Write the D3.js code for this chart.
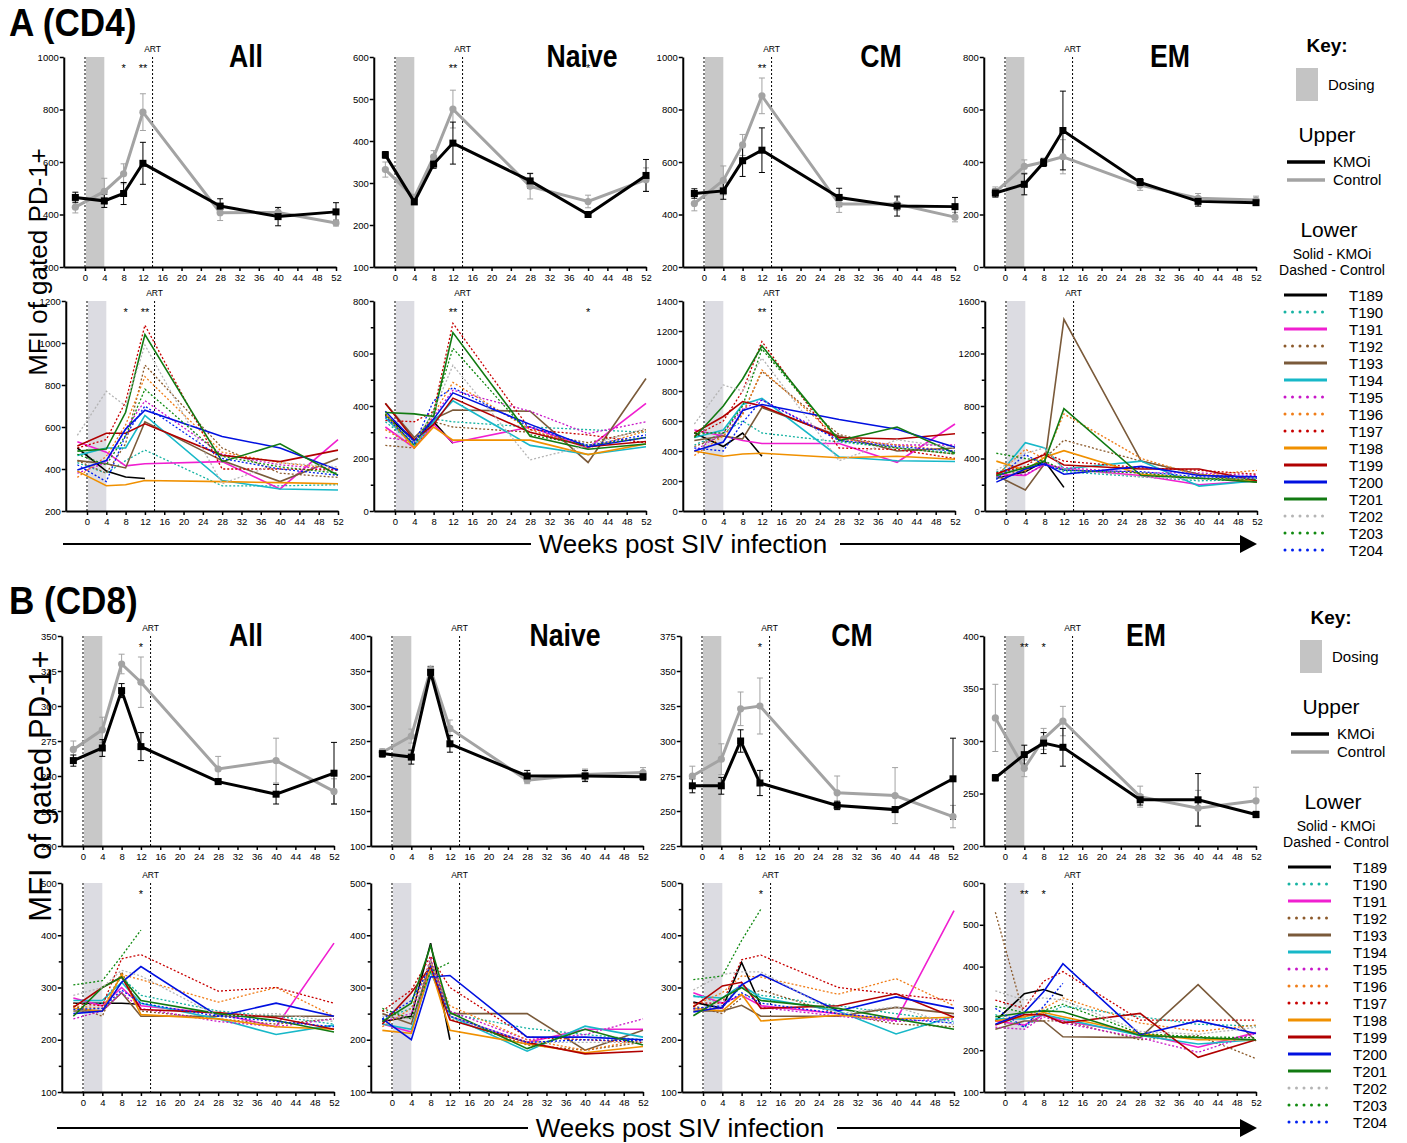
<!DOCTYPE html>
<html>
<head>
<meta charset="utf-8">
<script src="https://cdn.jsdelivr.net/npm/d3@7"></script>
<style>
  body { margin: 0; background: #fff; }
  svg { font-family: "Liberation Sans", Arial, sans-serif; }
</style>
</head>
<body>
<svg id="chart" width="1407" height="1143"></svg>
<script>
// ---- data ----
const weeks = [-2, 4, 8, 12, 28, 40, 52];
const xTicks = [0, 4, 8, 12, 16, 20, 24, 28, 32, 36, 40, 44, 48, 52];
const animals = ["T189", "T190", "T191", "T192", "T193", "T194", "T195", "T196",
                 "T197", "T198", "T199", "T200", "T201", "T202", "T203", "T204"];
const animalGroups = ["KMOi", "Control", "KMOi", "Control", "KMOi", "KMOi", "Control", "Control",
                      "Control", "KMOi", "KMOi", "KMOi", "KMOi", "Control", "Control", "Control"];
const animalColors = ["#000000", "#17b3a3", "#f01fd0", "#8c5a2b", "#7a5a3a", "#17b8c8", "#c817c8", "#f07d18",
                      "#c80000", "#f09000", "#b00000", "#0010e0", "#127a12", "#b4b4b4", "#108a10", "#0020f0"];

// upper panels: group means and error
const cd4AllKmoi = [465, 452, 480, 595, 432, 392, 410];
const cd4AllKmoiErr = [20, 25, 42, 80, 28, 35, 35];
const cd4AllCtrl = [428, 488, 555, 790, 407, 408, 368];
const cd4AllCtrlErr = [22, 50, 38, 70, 30, 18, 12];
const cd4NaiveKmoi = [367, 255, 345, 395, 305, 225, 318];
const cd4NaiveKmoiErr = [8, 5, 10, 50, 18, 5, 38];
const cd4NaiveCtrl = [332, 265, 362, 476, 292, 256, 308];
const cd4NaiveCtrlErr = [18, 8, 15, 45, 30, 15, 28];
const cd4CmKmoi = [480, 490, 605, 645, 465, 432, 430];
const cd4CmKmoiErr = [18, 32, 60, 85, 35, 38, 35];
const cd4CmCtrl = [442, 530, 665, 852, 440, 440, 390];
const cd4CmCtrlErr = [28, 55, 40, 68, 32, 25, 18];
const cd4EmKmoi = [282, 315, 398, 520, 322, 250, 245];
const cd4EmKmoiErr = [15, 40, 15, 150, 15, 18, 8];
const cd4EmCtrl = [285, 383, 400, 420, 312, 262, 255];
const cd4EmCtrlErr = [20, 25, 15, 65, 20, 18, 15];

const cd8AllKmoi = [261, 270, 311, 271, 246, 237, 252];
const cd8AllKmoiErr = [4, 6, 5, 10, 2, 7, 22];
const cd8AllCtrl = [269, 283, 330, 317, 255, 261, 239];
const cd8AllCtrlErr = [6, 9, 7, 18, 9, 16, 9];
const cd8NaiveKmoi = [232, 227, 348, 246, 200, 200, 199];
const cd8NaiveKmoiErr = [5, 10, 8, 12, 8, 8, 5];
const cd8NaiveCtrl = [234, 257, 352, 268, 194, 202, 205];
const cd8NaiveCtrlErr = [5, 10, 5, 12, 5, 8, 7];
const cd8CmKmoi = [268, 268, 300, 270, 254, 251, 273];
const cd8CmKmoiErr = [5, 6, 8, 9, 3, 2, 29];
const cd8CmCtrl = [275, 287, 323, 325, 263, 261, 246];
const cd8CmCtrlErr = [7, 11, 12, 20, 12, 20, 8];
const cd8EmKmoi = [265, 287, 298, 294, 244, 244, 230];
const cd8EmKmoiErr = [3, 9, 10, 18, 5, 25, 3];
const cd8EmCtrl = [322, 274, 302, 319, 247, 236, 243];
const cd8EmCtrlErr = [32, 8, 10, 14, 10, 17, 13];

// lower panels: one row per animal (same order as animals), null = not sampled
const cd4AllAnimals = [
  [500, 390, 362, 355, null, null, null],
  [430, 380, 440, 490, 320, 320, 325],
  [530, 480, 415, 425, 435, 305, 540],
  [440, 380, 520, 895, 500, 380, 360],
  [440, 425, 405, 625, 440, 340, 450],
  [465, 500, 500, 655, 345, 305, 300],
  [380, 430, 590, 725, 470, 420, 395],
  [360, 460, 610, 840, 480, 430, 400],
  [500, 540, 720, 1085, 400, 400, 395],
  [390, 320, 325, 345, 340, 335, 330],
  [510, 570, 570, 615, 465, 435, 490],
  [395, 440, 590, 680, 555, 500, 395],
  [485, 495, 670, 1040, 435, 520, 370],
  [560, 770, 700, 990, 330, 430, 410],
  [470, 420, 560, 780, 460, 410, 380],
  [420, 340, 560, 700, 450, 400, 370]
];
const cd4NaiveAnimals = [
  [365, 270, 340, 258, null, null, null],
  [340, 255, 350, 340, 320, 310, 300],
  [320, 240, 330, 260, 320, 240, 410],
  [250, 240, 340, 320, 300, 260, 310],
  [410, 280, 350, 385, 380, 185, 505],
  [355, 250, 340, 420, 250, 215, 245],
  [280, 265, 360, 460, 380, 295, 340],
  [310, 245, 370, 490, 310, 240, 305],
  [345, 340, 380, 715, 310, 290, 260],
  [370, 240, 320, 270, 270, 215, 255],
  [410, 270, 330, 430, 300, 245, 265],
  [380, 265, 350, 450, 330, 245, 280],
  [375, 370, 360, 680, 285, 235, 255],
  [360, 260, 380, 555, 195, 250, 315],
  [370, 250, 380, 620, 290, 250, 280],
  [360, 255, 420, 470, 320, 250, 290]
];
const cd4CmAnimals = [
  [520, 430, 520, 365, null, null, null],
  [440, 520, 600, 520, 460, 420, 390],
  [540, 500, 470, 450, 450, 325, 580],
  [430, 500, 650, 930, 510, 420, 380],
  [470, 500, 480, 690, 500, 400, 420],
  [490, 540, 710, 750, 360, 335, 330],
  [400, 520, 680, 740, 480, 440, 440],
  [370, 500, 640, 940, 480, 440, 400],
  [500, 600, 800, 1130, 420, 410, 350],
  [400, 365, 380, 385, 355, 365, 345],
  [520, 630, 730, 700, 490, 480, 515],
  [400, 460, 670, 710, 610, 545, 425],
  [490, 700, 880, 1100, 470, 560, 385],
  [580, 840, 800, 1020, 335, 475, 420],
  [520, 520, 700, 1080, 470, 420, 380],
  [420, 400, 590, 740, 470, 430, 400]
];
const cd4EmAnimals = [
  [250, 300, 380, 180, null, null, null],
  [300, 330, 360, 300, 260, 230, 240],
  [280, 270, 360, 320, 270, 200, 230],
  [290, 300, 400, 540, 380, 280, 250],
  [270, 160, 360, 1460, 380, 280, 220],
  [250, 520, 480, 320, 380, 190, 230],
  [260, 280, 350, 330, 290, 290, 270],
  [270, 470, 400, 740, 400, 270, 310],
  [290, 340, 440, 380, 330, 310, 280],
  [380, 310, 410, 460, 280, 250, 230],
  [280, 370, 430, 350, 320, 320, 230],
  [220, 320, 360, 280, 340, 270, 260],
  [270, 330, 380, 780, 270, 250, 220],
  [310, 440, 480, 320, 260, 240, 250],
  [440, 400, 380, 310, 290, 250, 240],
  [240, 430, 350, 310, 300, 260, 250]
];
const cd8AllAnimals = [
  [270, 270, 270, 268, null, null, null],
  [270, 270, 320, 285, 255, 245, 230],
  [280, 265, 300, 265, 250, 225, 385],
  [265, 245, 330, 255, 240, 230, 240],
  [255, 255, 290, 245, 245, 245, 245],
  [275, 275, 310, 270, 240, 210, 228],
  [240, 255, 290, 260, 235, 225, 240],
  [265, 260, 325, 315, 272, 300, 245],
  [270, 265, 355, 363, 293, 300, 270],
  [260, 255, 325, 248, 240, 225, 220],
  [262, 300, 320, 258, 252, 242, 220],
  [250, 255, 310, 340, 245, 270, 245],
  [245, 300, 320, 275, 250, 237, 215],
  [285, 300, 333, 322, 245, 250, 235],
  [305, 313, 360, 410, null, null, null],
  [258, 260, 295, 270, 245, 235, 225]
];
const cd8NaiveAnimals = [
  [235, 245, 385, 200, null, null, null],
  [240, 260, 345, 250, 222, 210, 200],
  [230, 215, 350, 245, 195, 220, 220],
  [255, 240, 340, 240, 190, 180, 195],
  [250, 230, 350, 250, 250, 180, 218],
  [230, 220, 330, 245, 178, 226, 205],
  [235, 250, 355, 255, 200, 210, 240],
  [225, 260, 350, 265, 200, 180, 200],
  [255, 295, 360, 300, 205, 200, 195],
  [218, 212, 338, 218, 192, 175, 187],
  [230, 290, 340, 238, 195, 173, 178],
  [240, 200, 320, 323, 205, 205, 200],
  [235, 270, 380, 252, 183, 220, 190],
  [245, 240, 350, 245, 195, 195, 195],
  [260, 240, 330, 348, null, null, null],
  [240, 275, 340, 245, 195, 200, 198]
];
const cd8CmAnimals = [
  [272, 260, 348, 265, null, null, null],
  [285, 270, 300, 285, 265, 250, 235],
  [290, 270, 285, 265, 250, 237, 447],
  [265, 250, 280, 295, 250, 230, 225],
  [255, 255, 266, 245, 245, 262, 250],
  [283, 280, 305, 280, 255, 211, 245],
  [258, 260, 310, 262, 245, 235, 240],
  [265, 290, 322, 320, 287, 317, 265],
  [270, 270, 353, 362, 300, 287, 275],
  [260, 255, 287, 236, 247, 240, 243],
  [263, 303, 310, 260, 265, 288, 243],
  [253, 262, 305, 325, 255, 282, 260],
  [246, 280, 300, 275, 260, 240, 220],
  [295, 325, 330, 330, 250, 263, 228],
  [315, 322, 390, 450, null, null, null],
  [260, 265, 290, 270, 250, 240, 232]
];
const cd8EmAnimals = [
  [270, 335, 345, 330, null, null, null],
  [285, 255, 285, 305, 280, 262, 258],
  [270, 260, 285, 270, 240, 207, 242],
  [530, 280, 270, 270, 225, 235, 180],
  [250, 270, 270, 232, 230, 357, 222],
  [275, 275, 285, 275, 235, 215, 225],
  [255, 250, 280, 265, 230, 195, 240],
  [270, 280, 300, 325, 265, 245, 260],
  [320, 300, 365, 388, 272, 272, 272],
  [270, 280, 290, 280, 240, 225, 225],
  [260, 285, 285, 265, 288, 183, 225],
  [262, 290, 340, 407, 237, 270, 240],
  [280, 290, 294, 292, 235, 230, 225],
  [342, 320, 325, 320, 245, 238, 255],
  [305, 290, 295, 310, 240, 232, 230],
  [300, 255, 305, 360, null, null, null]
];

// ---- layout ----
const svg = d3.select("#chart");
const weekPx = 251 / 52;

const upperPanels = [
  { title: "All", titleX: 246, x0: 85, yTop: 57, yBot: 267, domain: [200, 1000], ticks: d3.range(200, 1001, 200), kmoi: cd4AllKmoi, kmoiErr: cd4AllKmoiErr, ctrl: cd4AllCtrl, ctrlErr: cd4AllCtrlErr, stars: [[8, "*"], [12, "**"]] },
  { title: "Naive", titleX: 582, x0: 395, yTop: 57, yBot: 267, domain: [100, 600], ticks: d3.range(100, 601, 100), kmoi: cd4NaiveKmoi, kmoiErr: cd4NaiveKmoiErr, ctrl: cd4NaiveCtrl, ctrlErr: cd4NaiveCtrlErr, stars: [[12, "**"], [40, "*"]] },
  { title: "CM", titleX: 881, x0: 704, yTop: 57, yBot: 267, domain: [200, 1000], ticks: d3.range(200, 1001, 200), kmoi: cd4CmKmoi, kmoiErr: cd4CmKmoiErr, ctrl: cd4CmCtrl, ctrlErr: cd4CmCtrlErr, stars: [[12, "**"]] },
  { title: "EM", titleX: 1170, x0: 1005, yTop: 57, yBot: 267, domain: [0, 800], ticks: d3.range(0, 801, 200), kmoi: cd4EmKmoi, kmoiErr: cd4EmKmoiErr, ctrl: cd4EmCtrl, ctrlErr: cd4EmCtrlErr, stars: [] },
  { title: "All", titleX: 246, x0: 83, yTop: 636, yBot: 846, domain: [200, 350], ticks: d3.range(200, 351, 25), kmoi: cd8AllKmoi, kmoiErr: cd8AllKmoiErr, ctrl: cd8AllCtrl, ctrlErr: cd8AllCtrlErr, stars: [[12, "*"]] },
  { title: "Naive", titleX: 565, x0: 392, yTop: 636, yBot: 846, domain: [100, 400], ticks: d3.range(100, 401, 50), kmoi: cd8NaiveKmoi, kmoiErr: cd8NaiveKmoiErr, ctrl: cd8NaiveCtrl, ctrlErr: cd8NaiveCtrlErr, stars: [] },
  { title: "CM", titleX: 852, x0: 702, yTop: 636, yBot: 846, domain: [225, 375], ticks: d3.range(225, 376, 25), kmoi: cd8CmKmoi, kmoiErr: cd8CmKmoiErr, ctrl: cd8CmCtrl, ctrlErr: cd8CmCtrlErr, stars: [[12, "*"]] },
  { title: "EM", titleX: 1146, x0: 1005, yTop: 636, yBot: 846, domain: [200, 400], ticks: d3.range(200, 401, 50), kmoi: cd8EmKmoi, kmoiErr: cd8EmKmoiErr, ctrl: cd8EmCtrl, ctrlErr: cd8EmCtrlErr, stars: [[4, "**"], [8, "*"]] }
];

const lowerPanels = [
  { x0: 87, yTop: 301, yBot: 511, domain: [200, 1200], ticks: d3.range(200, 1201, 200), minor: [], rows: cd4AllAnimals, stars: [[8, "*"], [12, "**"]] },
  { x0: 395, yTop: 301, yBot: 511, domain: [0, 800], ticks: d3.range(0, 801, 200), minor: d3.range(100, 800, 200), rows: cd4NaiveAnimals, stars: [[12, "**"], [40, "*"]] },
  { x0: 704, yTop: 301, yBot: 511, domain: [0, 1400], ticks: d3.range(0, 1401, 200), minor: [], rows: cd4CmAnimals, stars: [[12, "**"]] },
  { x0: 1006, yTop: 301, yBot: 511, domain: [0, 1600], ticks: d3.range(0, 1601, 400), minor: d3.range(200, 1600, 400), rows: cd4EmAnimals, stars: [] },
  { x0: 83, yTop: 883, yBot: 1092, domain: [100, 500], ticks: d3.range(100, 501, 100), minor: d3.range(150, 500, 100), rows: cd8AllAnimals, stars: [[12, "*"]] },
  { x0: 392, yTop: 883, yBot: 1092, domain: [100, 500], ticks: d3.range(100, 501, 100), minor: d3.range(150, 500, 100), rows: cd8NaiveAnimals, stars: [] },
  { x0: 703, yTop: 883, yBot: 1092, domain: [100, 500], ticks: d3.range(100, 501, 100), minor: d3.range(150, 500, 100), rows: cd8CmAnimals, stars: [[12, "*"]] },
  { x0: 1005, yTop: 883, yBot: 1092, domain: [100, 600], ticks: d3.range(100, 601, 100), minor: [], rows: cd8EmAnimals, stars: [[4, "**"], [8, "*"]] }
];

// no narrow font installed: squeeze bold headings horizontally
function narrowText(x, y, size, str, squeeze, anchor) {
  return svg.append("text")
    .attr("transform", "translate(" + x + "," + y + ") scale(" + squeeze + ",1)")
    .attr("text-anchor", anchor)
    .style("font-weight", "bold").style("font-size", size + "px")
    .text(str);
}

// shared frame: band, ART lines, axes, stars
function drawFrame(p, bandColor) {
  const g = svg.append("g");
  const x = d3.scaleLinear().domain([-4.4, 52]).range([p.x0 - 4.4 * weekPx, p.x0 + 52 * weekPx]);
  const y = d3.scaleLinear().domain(p.domain).range([p.yBot, p.yTop]);

  g.append("rect")
    .attr("x", x(0) + 1).attr("width", x(4) - x(0) - 1)
    .attr("y", p.yTop).attr("height", p.yBot - p.yTop)
    .attr("fill", bandColor);

  [0, 14].forEach(w => {
    g.append("line")
      .attr("x1", x(w)).attr("x2", x(w))
      .attr("y1", p.yTop).attr("y2", p.yBot)
      .attr("stroke", "#000").attr("stroke-width", 1)
      .attr("stroke-dasharray", "2,2");
  });
  g.append("text")
    .attr("x", x(14)).attr("y", p.yTop - 5)
    .attr("text-anchor", "middle")
    .style("font-size", "8.5px")
    .text("ART");

  p.stars.forEach(s => {
    g.append("text")
      .attr("x", x(s[0])).attr("y", p.yTop + 15)
      .attr("text-anchor", "middle")
      .style("font-size", "11px")
      .text(s[1]);
  });

  const yAxis = g.append("g")
    .attr("transform", "translate(" + x(-4.4) + ",0)")
    .call(d3.axisLeft(y).tickValues(p.ticks).tickFormat(d3.format("d"))
      .tickSize(4).tickSizeOuter(0).tickPadding(1));
  if (p.minor && p.minor.length) {
    g.append("g")
      .attr("transform", "translate(" + x(-4.4) + ",0)")
      .call(d3.axisLeft(y).tickValues(p.minor).tickSize(3).tickFormat(""))
      .call(a => a.select(".domain").remove())
      .selectAll("line").attr("stroke-width", 1.5);
  }
  const xAxis = g.append("g")
    .attr("transform", "translate(0," + p.yBot + ")")
    .call(d3.axisBottom(x).tickValues(xTicks).tickSize(4).tickSizeOuter(0).tickPadding(3));

  [yAxis, xAxis].forEach(a => {
    a.select(".domain").attr("stroke-width", 2);
    a.selectAll(".tick line").attr("stroke-width", 1.5);
    a.selectAll("text").style("font-size", "9.5px").attr("fill", "#000");
  });
  return { g, x, y };
}

function drawUpper(p) {
  const { g, x, y } = drawFrame(p, "#c8c8c8");
  const line = d3.line().x((d, i) => x(weeks[i])).y(d => y(d));
  const series = [
    { vals: p.ctrl, err: p.ctrlErr, color: "#a3a3a3", shape: "circle" },
    { vals: p.kmoi, err: p.kmoiErr, color: "#000000", shape: "square" }
  ];
  series.forEach(s => {
    const eg = g.append("g").attr("stroke", s.color).attr("stroke-width", 1);
    s.vals.forEach((v, i) => {
      const cx = x(weeks[i]);
      eg.append("line").attr("x1", cx).attr("x2", cx).attr("y1", y(v - s.err[i])).attr("y2", y(v + s.err[i]));
      [v - s.err[i], v + s.err[i]].forEach(e => {
        eg.append("line").attr("x1", cx - 3).attr("x2", cx + 3).attr("y1", y(e)).attr("y2", y(e));
      });
    });
  });
  series.forEach(s => {
    g.append("path").datum(s.vals)
      .attr("d", line).attr("fill", "none")
      .attr("stroke", s.color).attr("stroke-width", 3);
    const m = g.selectAll(null).data(s.vals);
    if (s.shape === "circle") {
      m.join("circle").attr("cx", (d, i) => x(weeks[i])).attr("cy", d => y(d)).attr("r", 3.6).attr("fill", s.color);
    } else {
      m.join("rect").attr("x", (d, i) => x(weeks[i]) - 3.5).attr("y", d => y(d) - 3.5)
        .attr("width", 7).attr("height", 7).attr("fill", s.color);
    }
  });
  narrowText(p.titleX, p.yTop + 10, 31, p.title, 0.86, "middle");
}

function drawLower(p) {
  const { g, x, y } = drawFrame(p, "#dcdce2");
  const line = d3.line().defined(d => d != null).x((d, i) => x(weeks[i])).y(d => y(d));
  p.rows.forEach((row, i) => {
    const dashed = animalGroups[i] === "Control";
    g.append("path").datum(row)
      .attr("d", line).attr("fill", "none")
      .attr("stroke", animalColors[i])
      .attr("stroke-width", dashed ? 1.3 : 1.6)
      .attr("stroke-dasharray", dashed ? "2,2" : null);
  });
}

upperPanels.forEach(drawUpper);
lowerPanels.forEach(drawLower);

// section labels and shared axis titles
narrowText(9, 36, 39, "A (CD4)", 0.9, "start");
narrowText(9, 614, 39, "B (CD8)", 0.9, "start");
[[47, 262, 26], [51, 786, 31]].forEach(d => {
  svg.append("text")
    .attr("transform", "translate(" + d[0] + "," + d[1] + ") rotate(-90)")
    .attr("text-anchor", "middle")
    .style("font-size", d[2] + "px")
    .text("MFI of gated PD-1+");
});

function drawArrow(yPos, left, textX) {
  const g = svg.append("g");
  g.append("line").attr("x1", left).attr("x2", textX - 152).attr("y1", yPos).attr("y2", yPos)
    .attr("stroke", "#000").attr("stroke-width", 2);
  g.append("line").attr("x1", textX + 157).attr("x2", 1242).attr("y1", yPos).attr("y2", yPos)
    .attr("stroke", "#000").attr("stroke-width", 2);
  g.append("path").attr("d", d3.line()([[1240, yPos - 9], [1257, yPos], [1240, yPos + 9]])).attr("fill", "#000");
  g.append("text").attr("x", textX).attr("y", yPos + 9)
    .attr("text-anchor", "middle").style("font-size", "26px")
    .text("Weeks post SIV infection");
}
drawArrow(544, 63, 683);
drawArrow(1128, 57, 680);

function drawLegend(y0, dx) {
  const g = svg.append("g").attr("transform", "translate(" + dx + "," + y0 + ")");
  g.append("text").attr("x", 1327).attr("y", 0).attr("text-anchor", "middle")
    .style("font-weight", "bold").style("font-size", "19px").text("Key:");
  g.append("rect").attr("x", 1296).attr("y", 16).attr("width", 22).attr("height", 33).attr("fill", "#c4c4c4");
  g.append("text").attr("x", 1328).attr("y", 38).style("font-size", "15px").text("Dosing");
  g.append("text").attr("x", 1327).attr("y", 90).attr("text-anchor", "middle").style("font-size", "21px").text("Upper");
  [["KMOi", "#000", 110], ["Control", "#a3a3a3", 128]].forEach(d => {
    g.append("line").attr("x1", 1287).attr("x2", 1325).attr("y1", d[2]).attr("y2", d[2])
      .attr("stroke", d[1]).attr("stroke-width", 3.5);
    g.append("text").attr("x", 1333).attr("y", d[2] + 5).style("font-size", "15px").text(d[0]);
  });
  g.append("text").attr("x", 1329).attr("y", 185).attr("text-anchor", "middle").style("font-size", "21px").text("Lower");
  g.append("text").attr("x", 1332).attr("y", 207).attr("text-anchor", "middle").style("font-size", "14px").text("Solid - KMOi");
  g.append("text").attr("x", 1332).attr("y", 223).attr("text-anchor", "middle").style("font-size", "14px").text("Dashed - Control");
  animals.forEach((a, i) => {
    const yy = 243 + i * 17;
    const dashed = animalGroups[i] === "Control";
    g.append("line").attr("x1", dashed ? 1285 : 1284).attr("x2", 1327).attr("y1", yy).attr("y2", yy)
      .attr("stroke", animalColors[i]).attr("stroke-width", 3)
      .attr("stroke-linecap", dashed ? "round" : "butt")
      .attr("stroke-dasharray", dashed ? "0,7.5" : null);
    g.append("text").attr("x", 1349).attr("y", yy + 6).style("font-size", "15px").text(a);
  });
}
drawLegend(52, 0);
drawLegend(624, 4);
</script>
</body>
</html>
